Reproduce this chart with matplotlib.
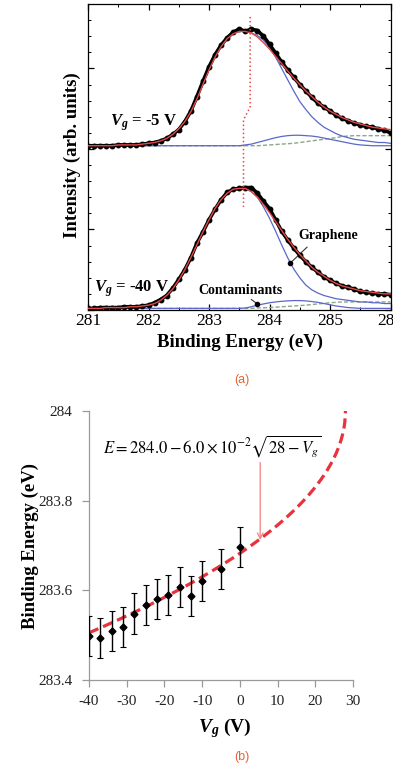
import matplotlib
matplotlib.use('Agg')
import matplotlib.pyplot as plt
from matplotlib.ticker import MultipleLocator
import numpy as np

plt.rcParams['font.family'] = ['Liberation Serif', 'DejaVu Serif']
plt.rcParams['mathtext.fontset'] = 'custom'
plt.rcParams['mathtext.it'] = 'Liberation Serif:bold:italic'
plt.rcParams['mathtext.rm'] = 'Liberation Serif:bold'
plt.rcParams['mathtext.bf'] = 'Liberation Serif:bold'

# ---------------- Panel (a): XPS C1s spectra ----------------
energy = np.linspace(281.0, 286.0, 51)  # binding energy grid (eV)

# Vg = -5 V spectrum (relative to its own baseline)
top_data = [0.00, 0.00, 0.00, 0.00, 0.00, 0.01, 0.01, 0.01, 0.01, 0.02,
            0.03, 0.04, 0.06, 0.09, 0.14, 0.20, 0.30, 0.43, 0.61, 0.80,
            0.98, 1.13, 1.25, 1.34, 1.41, 1.45, 1.42, 1.45, 1.43, 1.36,
            1.26, 1.15, 1.04, 0.94, 0.85, 0.76, 0.68, 0.60, 0.53, 0.48,
            0.43, 0.38, 0.34, 0.31, 0.28, 0.26, 0.24, 0.23, 0.21, 0.19, 0.16]
top_fit = [0.00, 0.00, 0.00, 0.00, 0.00, 0.01, 0.01, 0.01, 0.01, 0.02,
           0.03, 0.04, 0.06, 0.09, 0.14, 0.21, 0.30, 0.42, 0.58, 0.76,
           0.94, 1.10, 1.23, 1.33, 1.39, 1.42, 1.42, 1.40, 1.35, 1.28,
           1.20, 1.11, 1.02, 0.93, 0.84, 0.76, 0.68, 0.61, 0.54, 0.48,
           0.43, 0.39, 0.35, 0.32, 0.29, 0.27, 0.25, 0.23, 0.22, 0.21, 0.20]
top_graphene = [0.00, 0.00, 0.00, 0.00, 0.00, 0.01, 0.01, 0.01, 0.01, 0.02,
                0.03, 0.04, 0.06, 0.09, 0.14, 0.21, 0.30, 0.42, 0.58, 0.76,
                0.94, 1.10, 1.23, 1.33, 1.39, 1.42, 1.42, 1.40, 1.37, 1.31,
                1.22, 1.10, 0.96, 0.82, 0.68, 0.55, 0.45, 0.36, 0.29, 0.23,
                0.19, 0.15, 0.12, 0.10, 0.08, 0.07, 0.06, 0.05, 0.04, 0.04, 0.03]
top_contam = [0.00] * 26 + [0.01, 0.02, 0.04, 0.06, 0.08, 0.10, 0.115, 0.125,
              0.13, 0.13, 0.125, 0.12, 0.11, 0.095, 0.08, 0.065, 0.05, 0.035,
              0.02, 0.01, 0.005, 0.0, 0.0, 0.0, 0.0]
top_backgr = [0.00] * 29 + [0.005, 0.01, 0.015, 0.02, 0.025, 0.03, 0.04, 0.05,
              0.06, 0.07, 0.08, 0.09, 0.10, 0.115, 0.12, 0.125, 0.125, 0.125,
              0.125, 0.125, 0.125, 0.125]

# Vg = -40 V spectrum
bot_data = [0.02, 0.02, 0.03, 0.03, 0.03, 0.03, 0.04, 0.04, 0.04, 0.05,
            0.06, 0.09, 0.13, 0.18, 0.27, 0.38, 0.50, 0.65, 0.83, 0.97,
            1.12, 1.25, 1.37, 1.46, 1.50, 1.51, 1.52, 1.52, 1.45, 1.35,
            1.26, 1.12, 0.98, 0.87, 0.77, 0.68, 0.60, 0.53, 0.47, 0.41,
            0.37, 0.33, 0.30, 0.28, 0.26, 0.23, 0.22, 0.21, 0.20, 0.20, 0.19]
bot_fit = [0.02, 0.02, 0.02, 0.03, 0.03, 0.03, 0.03, 0.04, 0.04, 0.05,
           0.06, 0.08, 0.12, 0.18, 0.26, 0.37, 0.50, 0.65, 0.81, 0.97,
           1.12, 1.26, 1.37, 1.45, 1.50, 1.51, 1.51, 1.47, 1.40, 1.31,
           1.21, 1.10, 0.99, 0.88, 0.78, 0.69, 0.61, 0.53, 0.47, 0.42,
           0.37, 0.33, 0.30, 0.28, 0.26, 0.24, 0.23, 0.22, 0.21, 0.20, 0.20]
bot_graphene = [0.02, 0.02, 0.02, 0.03, 0.03, 0.03, 0.03, 0.04, 0.04, 0.05,
                0.06, 0.08, 0.12, 0.18, 0.26, 0.37, 0.50, 0.65, 0.81, 0.97,
                1.12, 1.26, 1.37, 1.45, 1.50, 1.51, 1.51, 1.47, 1.40, 1.28,
                1.14, 0.98, 0.81, 0.65, 0.51, 0.40, 0.31, 0.25, 0.21, 0.18,
                0.16, 0.14, 0.13, 0.12, 0.11, 0.10, 0.10, 0.09, 0.09, 0.08, 0.08]
bot_contam = [0.02] * 26 + [0.025, 0.04, 0.06, 0.075, 0.09, 0.10, 0.108, 0.113,
              0.117, 0.117, 0.113, 0.105, 0.095, 0.08, 0.065, 0.05, 0.04, 0.03,
              0.025, 0.02, 0.02, 0.02, 0.02, 0.02, 0.02]
bot_backgr = [0.02] * 28 + [0.025, 0.028, 0.03, 0.035, 0.04, 0.045, 0.05, 0.055,
              0.06, 0.068, 0.075, 0.083, 0.09, 0.095, 0.10, 0.10, 0.10, 0.10,
              0.10, 0.10, 0.10, 0.10, 0.10]

top_offset = 2.04
peak_line_x = [283.68, 283.68, 283.57, 283.57]
peak_line_y = [3.64, 2.52, 2.36, 1.28]

# ---------------- Panel (b): peak position vs gate voltage ----------------
vg = [-40, -37, -34, -31, -28, -25, -22, -19, -16, -13, -10, -5, 0]
be = [283.498, 283.494, 283.509, 283.518, 283.548, 283.568, 283.580,
      283.590, 283.608, 283.587, 283.621, 283.647, 283.696]
be_err = [0.045] * 13
fit_E0, fit_A, fit_V0 = 284.0, 6.0e-2, 28.0

W, H = 393, 767
fig = plt.figure(figsize=(W / 100, H / 100), dpi=100)

def fx(px):
    return px / W

def fy(py):
    return 1 - py / H

# ---- axes (a)
ax1 = fig.add_axes([fx(88), fy(310), 302.5 / W, 306 / H])
ax1.set_xlim(281, 286)
ax1.set_ylim(0, 3.8)
e = np.asarray(energy)
blue = '#5b67c9'
red = '#e54848'
green = '#8aa88a'
for off, dat, fit, gra, con, bkg in [
        (top_offset, top_data, top_fit, top_graphene, top_contam, top_backgr),
        (0.0, bot_data, bot_fit, bot_graphene, bot_contam, bot_backgr)]:
    ax1.plot(e, np.asarray(bkg) + off, ls=(0, (3, 1.5)), color=green, lw=1.0, zorder=2)
    ax1.plot(e, np.asarray(con) + off, color=blue, lw=0.9, zorder=2)
    ax1.plot(e, np.asarray(gra) + off, color=blue, lw=0.9, zorder=2)
    ax1.plot(e, np.asarray(dat) + off, color='black', lw=2.6, marker='o', ms=3.2,
             zorder=3)
    ax1.plot(e, np.asarray(fit) + off, color=red, lw=1.0, zorder=4)
ax1.plot(peak_line_x, peak_line_y, color=red, ls=':', lw=1.1, zorder=5)

ax1.set_xticks([281, 282, 283, 284, 285, 286])
ax1.set_xticklabels(['281', '282', '283', '284', '285', '286'])
ax1.xaxis.set_minor_locator(MultipleLocator(0.5))
ax1.yaxis.set_major_locator(MultipleLocator(1.0))
ax1.yaxis.set_minor_locator(MultipleLocator(0.2))
ax1.tick_params(axis='both', which='both', direction='in', top=True, right=True)
ax1.tick_params(axis='both', which='major', length=4, width=0.9, labelsize=12.5, pad=2)
ax1.tick_params(axis='both', which='minor', length=2.5, width=0.7)
ax1.tick_params(axis='y', labelleft=False)
for s in ax1.spines.values():
    s.set_linewidth(0.9)

ax1.text(281.92, 2.32, r'$V_g$ = -5 V', fontsize=12, fontweight='bold',
         ha='center', va='center')
ax1.text(281.72, 0.27, r'$V_g$ = -40 V', fontsize=12, fontweight='bold',
         ha='center', va='center')
ax1.text(284.97, 0.93, 'Graphene', fontsize=10, fontweight='bold',
         ha='center', va='center')
ax1.plot([284.62, 284.34], [0.78, 0.58], color='#333333', lw=0.8)
ax1.plot([284.34], [0.58], 'o', color='black', ms=3)
ax1.text(283.52, 0.24, 'Contaminants', fontsize=10, fontweight='bold',
         ha='center', va='center')
ax1.plot([283.70, 283.80], [0.13, 0.075], color='#333333', lw=0.8)
ax1.plot([283.80], [0.075], 'o', color='black', ms=3)

fig.text(fx(72), fy(155), 'Intensity (arb. units)', rotation=90, fontsize=13.5,
         fontweight='bold', ha='center', va='center')
fig.text(fx(240), fy(342), 'Binding Energy (eV)', fontsize=13.5,
         fontweight='bold', ha='center', va='center')
fig.text(fx(242), fy(380), '(a)', fontsize=9, color='#e0663a',
         family='Liberation Sans', ha='center', va='center')

# ---- axes (b)
ax2 = fig.add_axes([fx(89), fy(680), 264 / W, 269 / H])
ax2.set_xlim(-40, 30)
ax2.set_ylim(283.4, 284.0)
vfit = np.linspace(-40, fit_V0, 400)
efit = fit_E0 - fit_A * np.sqrt(fit_V0 - vfit)
ax2.plot(vfit, efit, ls=(0, (3.2, 1.6)), lw=2.3, color='#e8323c', zorder=2)
ax2.errorbar(vg, be, yerr=be_err, fmt='D', color='black', ms=3.5,
             elinewidth=1.0, capsize=2.5, capthick=0.8, zorder=3)
ax2.text(-7.4, 283.922, r'$E = 284.0 - 6.0\times10^{-2}\sqrt{28 - V_g}$',
         math_fontfamily='stix', fontsize=12, ha='center', va='center')
ax2.annotate('', xy=(5.4, 283.712), xytext=(5.4, 283.885),
             arrowprops=dict(arrowstyle='->', color='#f08c8c', lw=1.0,
                             shrinkA=0, shrinkB=0))

for side in ['top', 'right']:
    ax2.spines[side].set_visible(False)
for side in ['left', 'bottom']:
    ax2.spines[side].set_color('#9a9a9a')
    ax2.spines[side].set_linewidth(0.9)
ax2.set_yticks([283.4, 283.6, 283.8, 284.0])
ax2.set_yticklabels(['283.4', '283.6', '283.8', '284'])
ax2.set_xticks([-40, -30, -20, -10, 0, 10, 20, 30])
ax2.set_xticklabels(['-40', '-30', '-20', '-10', '0', '10', '20', '30'])
ax2.tick_params(direction='out', length=5, width=0.9, color='#9a9a9a',
                labelsize=11, labelcolor='#222222')
ax2.tick_params(axis='y', pad=7)
ax2.tick_params(axis='x', pad=6)

fig.text(fx(30), fy(546), 'Binding Energy (eV)', rotation=90, fontsize=13.5,
         fontweight='bold', ha='center', va='center')
fig.text(fx(225), fy(728), r'$V_g$ (V)', fontsize=14, fontweight='bold',
         ha='center', va='center')
fig.text(fx(242), fy(757), '(b)', fontsize=9, color='#e0663a',
         family='Liberation Sans', ha='center', va='center')

fig.savefig('out.png', dpi=100)
